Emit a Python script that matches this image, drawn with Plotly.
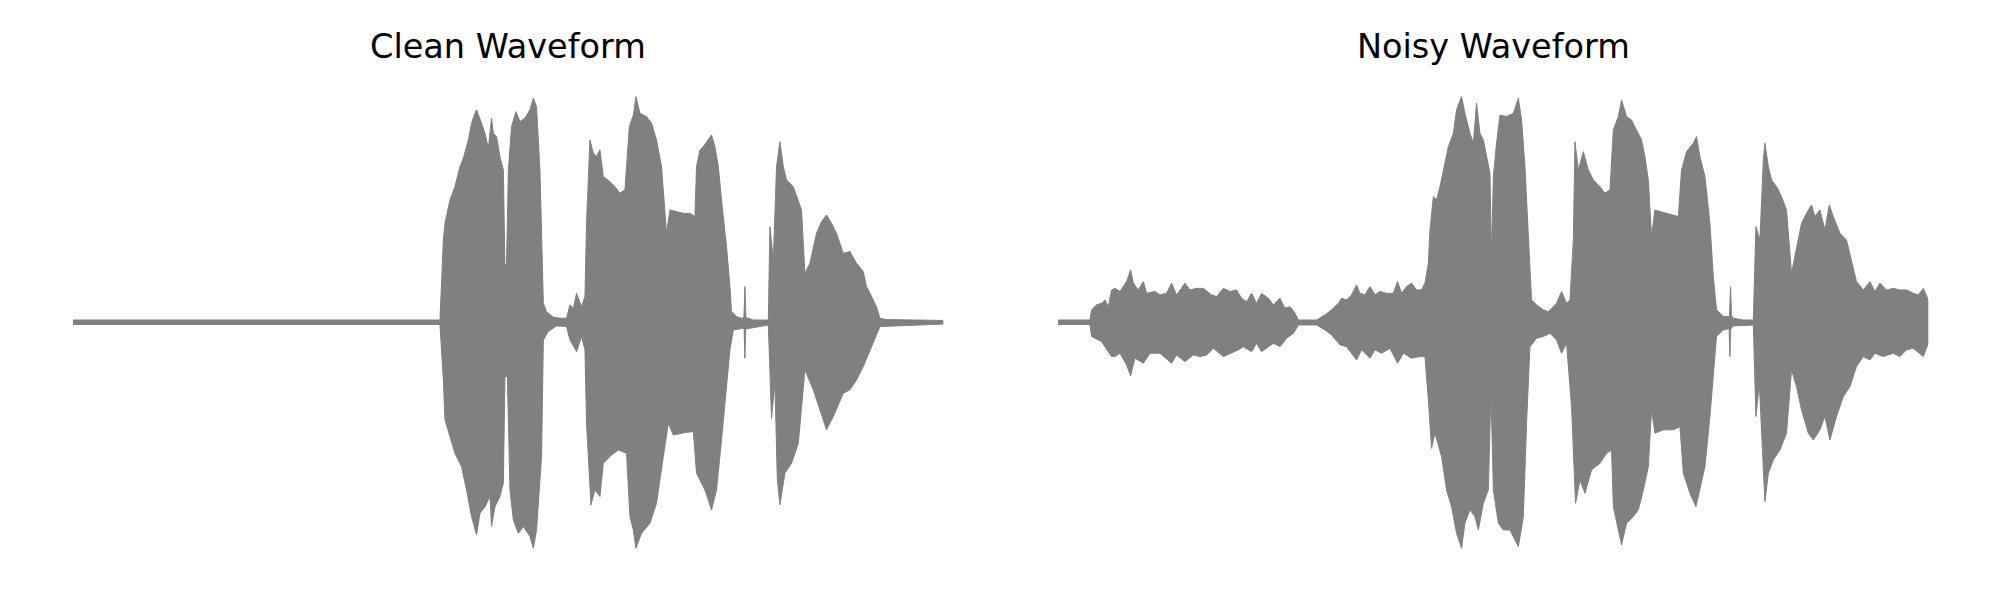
import plotly.graph_objects as go

# ---- Clean waveform envelope (time in s, amplitude normalised to peak) ----
clean_top_t = [0.000, 1.835, 1.852, 1.860, 1.885, 1.910, 1.935, 1.952, 1.977, 1.993, 2.010, 2.018, 2.043, 2.060,
               2.077, 2.093, 2.102, 2.118, 2.135, 2.152, 2.160, 2.168, 2.177, 2.193, 2.215, 2.235, 2.260, 2.285,
               2.302, 2.318, 2.335, 2.352, 2.368, 2.402, 2.435, 2.468, 2.485, 2.502, 2.518, 2.543, 2.560, 2.568,
               2.585, 2.602, 2.618, 2.635, 2.652, 2.685, 2.710, 2.735, 2.760, 2.782, 2.802, 2.815, 2.835, 2.868,
               2.893, 2.918, 2.943, 2.968, 2.985, 3.018, 3.052, 3.085, 3.110, 3.118, 3.135, 3.152, 3.185, 3.193,
               3.210, 3.227, 3.243, 3.268, 3.285, 3.293, 3.318, 3.343, 3.355, 3.360, 3.365, 3.377, 3.402, 3.477,
               3.485, 3.502, 3.518, 3.535, 3.552, 3.568, 3.602, 3.627, 3.643, 3.660, 3.685, 3.718, 3.743, 3.768,
               3.793, 3.818, 3.852, 3.885, 3.918, 3.952, 3.968, 3.993, 4.018, 4.035, 4.068, 4.352]
clean_top = [0.01, 0.01, 0.364, 0.438, 0.541, 0.600, 0.689, 0.726, 0.807, 0.881, 0.925, 0.940, 0.881, 0.836,
             0.770, 0.903, 0.836, 0.822, 0.733, 0.674, 0.246, 0.261, 0.674, 0.866, 0.932, 0.888, 0.903, 0.940,
             0.991, 0.954, 0.674, 0.084, 0.047, 0.022, 0.018, 0.018, 0.077, 0.062, 0.128, 0.069, 0.114, 0.438,
             0.807, 0.748, 0.733, 0.763, 0.645, 0.622, 0.600, 0.571, 0.586, 0.866, 0.917, 0.999, 0.925, 0.910,
             0.881, 0.807, 0.689, 0.394, 0.497, 0.490, 0.482, 0.482, 0.468, 0.689, 0.763, 0.777, 0.822, 0.829,
             0.777, 0.689, 0.541, 0.335, 0.158, 0.047, 0.025, 0.018, 0.02, 0.158, 0.02, 0.018, 0.010, 0.010,
             0.423, 0.276, 0.689, 0.799, 0.689, 0.630, 0.600, 0.541, 0.497, 0.217, 0.261, 0.394, 0.445, 0.475,
             0.438, 0.394, 0.305, 0.313, 0.261, 0.224, 0.158, 0.114, 0.069, 0.018, 0.012, 0.008]
clean_bot_t = [0.000, 1.835, 1.852, 1.860, 1.885, 1.910, 1.943, 1.968, 1.993, 2.018, 2.035, 2.060, 2.085, 2.093,
               2.110, 2.135, 2.152, 2.160, 2.172, 2.185, 2.202, 2.227, 2.252, 2.285, 2.302, 2.318, 2.343, 2.352,
               2.377, 2.418, 2.468, 2.485, 2.518, 2.543, 2.560, 2.568, 2.590, 2.610, 2.635, 2.652, 2.693, 2.727,
               2.768, 2.785, 2.802, 2.815, 2.843, 2.885, 2.918, 2.952, 2.977, 3.002, 3.068, 3.102, 3.118, 3.135,
               3.160, 3.193, 3.218, 3.243, 3.268, 3.285, 3.302, 3.352, 3.356, 3.360, 3.364, 3.377, 3.477, 3.493,
               3.510, 3.522, 3.535, 3.560, 3.593, 3.627, 3.660, 3.702, 3.735, 3.768, 3.802, 3.852, 3.885, 3.918,
               3.952, 3.993, 4.035, 4.352]
clean_bot = [-0.01, -0.01, -0.255, -0.432, -0.506, -0.580, -0.639, -0.742, -0.860, -0.941, -0.845, -0.816,
             -0.771, -0.904, -0.816, -0.771, -0.712, -0.240, -0.240, -0.742, -0.875, -0.934, -0.904, -0.948,
             -1.000, -0.919, -0.594, -0.078, -0.041, -0.016, -0.019, -0.078, -0.130, -0.063, -0.122, -0.447,
             -0.808, -0.742, -0.771, -0.624, -0.587, -0.565, -0.580, -0.860, -0.919, -1.000, -0.934, -0.889,
             -0.801, -0.594, -0.447, -0.499, -0.487, -0.484, -0.668, -0.698, -0.742, -0.830, -0.742, -0.521,
             -0.299, -0.122, -0.034, -0.027, -0.03, -0.159, -0.03, -0.027, -0.012, -0.425, -0.270, -0.698,
             -0.808, -0.668, -0.624, -0.535, -0.211, -0.299, -0.388, -0.476, -0.417, -0.314, -0.299, -0.255,
             -0.196, -0.108, -0.019, -0.008]

# ---- Noisy waveform envelope ----
noisy_top_t = [0.000, 0.160, 0.168, 0.193, 0.218, 0.235, 0.252, 0.268, 0.285, 0.310, 0.343, 0.363, 0.377, 0.402,
               0.427, 0.443, 0.485, 0.510, 0.543, 0.568, 0.593, 0.635, 0.660, 0.693, 0.727, 0.768, 0.793, 0.827,
               0.860, 0.893, 0.918, 0.943, 0.968, 0.993, 1.018, 1.052, 1.077, 1.110, 1.135, 1.160, 1.185, 1.202,
               1.293, 1.335, 1.368, 1.402, 1.418, 1.443, 1.468, 1.493, 1.510, 1.535, 1.560, 1.585, 1.610, 1.643,
               1.677, 1.698, 1.718, 1.743, 1.768, 1.793, 1.818, 1.835, 1.852, 1.860, 1.877, 1.893, 1.910, 1.935,
               1.952, 1.977, 1.993, 2.018, 2.035, 2.060, 2.077, 2.093, 2.110, 2.127, 2.143, 2.160, 2.168, 2.177,
               2.193, 2.210, 2.243, 2.277, 2.302, 2.318, 2.335, 2.352, 2.368, 2.393, 2.427, 2.452, 2.477, 2.493,
               2.518, 2.543, 2.560, 2.577, 2.585, 2.602, 2.627, 2.652, 2.677, 2.710, 2.735, 2.760, 2.777, 2.802,
               2.818, 2.843, 2.868, 2.893, 2.918, 2.935, 2.952, 2.968, 2.985, 3.010, 3.043, 3.077, 3.102, 3.118,
               3.143, 3.177, 3.193, 3.210, 3.235, 3.260, 3.277, 3.293, 3.327, 3.352, 3.358, 3.363, 3.368, 3.377,
               3.427, 3.477, 3.490, 3.510, 3.527, 3.535, 3.552, 3.568, 3.593, 3.618, 3.643, 3.668, 3.693, 3.718,
               3.743, 3.768, 3.785, 3.810, 3.835, 3.857, 3.877, 3.910, 3.943, 3.968, 3.993, 4.027, 4.060, 4.085,
               4.110, 4.143, 4.177, 4.210, 4.243, 4.277, 4.302, 4.327, 4.352]
noisy_top = [0.01, 0.01, 0.055, 0.077, 0.084, 0.099, 0.069, 0.143, 0.150, 0.136, 0.180, 0.232, 0.173, 0.143,
             0.180, 0.128, 0.136, 0.121, 0.128, 0.173, 0.121, 0.173, 0.143, 0.150, 0.150, 0.121, 0.114, 0.150,
             0.136, 0.143, 0.106, 0.091, 0.128, 0.084, 0.128, 0.106, 0.077, 0.106, 0.062, 0.069, 0.040, 0.010,
             0.010, 0.032, 0.055, 0.084, 0.106, 0.099, 0.121, 0.165, 0.128, 0.121, 0.158, 0.121, 0.136, 0.128,
             0.128, 0.180, 0.128, 0.158, 0.173, 0.143, 0.143, 0.173, 0.261, 0.409, 0.556, 0.541, 0.600, 0.704,
             0.777, 0.836, 0.940, 0.999, 0.925, 0.836, 0.792, 0.969, 0.836, 0.807, 0.733, 0.659, 0.291, 0.645,
             0.792, 0.917, 0.910, 0.925, 0.991, 0.895, 0.689, 0.364, 0.099, 0.077, 0.055, 0.047, 0.069, 0.084,
             0.136, 0.084, 0.099, 0.364, 0.799, 0.674, 0.755, 0.674, 0.630, 0.600, 0.571, 0.586, 0.851, 0.910,
             0.984, 0.910, 0.895, 0.851, 0.807, 0.733, 0.630, 0.379, 0.497, 0.490, 0.482, 0.475, 0.468, 0.674,
             0.755, 0.792, 0.822, 0.733, 0.645, 0.438, 0.202, 0.055, 0.025, 0.025, 0.03, 0.158, 0.03, 0.018,
             0.010, 0.010, 0.423, 0.364, 0.718, 0.792, 0.689, 0.630, 0.600, 0.556, 0.497, 0.217, 0.335, 0.438,
             0.482, 0.519, 0.468, 0.497, 0.409, 0.519, 0.468, 0.394, 0.364, 0.276, 0.180, 0.143, 0.180, 0.136,
             0.173, 0.143, 0.150, 0.143, 0.143, 0.128, 0.121, 0.150, 0.099]
noisy_bot_t = [0.000, 0.160, 0.168, 0.218, 0.268, 0.285, 0.310, 0.343, 0.363, 0.385, 0.427, 0.460, 0.510, 0.568,
               0.593, 0.635, 0.677, 0.710, 0.743, 0.777, 0.827, 0.868, 0.902, 0.927, 0.968, 0.993, 1.018, 1.077,
               1.110, 1.143, 1.177, 1.202, 1.293, 1.335, 1.368, 1.410, 1.443, 1.493, 1.518, 1.560, 1.585, 1.618,
               1.660, 1.698, 1.727, 1.768, 1.810, 1.835, 1.852, 1.868, 1.885, 1.918, 1.943, 1.968, 1.993, 2.018,
               2.035, 2.060, 2.085, 2.102, 2.127, 2.152, 2.165, 2.177, 2.202, 2.227, 2.260, 2.302, 2.327, 2.343,
               2.360, 2.393, 2.427, 2.460, 2.493, 2.518, 2.543, 2.568, 2.588, 2.610, 2.635, 2.668, 2.710, 2.743,
               2.768, 2.777, 2.793, 2.818, 2.843, 2.877, 2.902, 2.927, 2.952, 2.968, 2.985, 3.027, 3.077, 3.110,
               3.127, 3.160, 3.190, 3.210, 3.235, 3.260, 3.277, 3.293, 3.327, 3.352, 3.356, 3.360, 3.364, 3.377,
               3.477, 3.490, 3.507, 3.527, 3.535, 3.552, 3.577, 3.610, 3.643, 3.668, 3.693, 3.718, 3.752, 3.777,
               3.810, 3.835, 3.860, 3.893, 3.927, 3.960, 3.993, 4.027, 4.060, 4.085, 4.127, 4.177, 4.210, 4.243,
               4.277, 4.327, 4.352]
noisy_bot = [-0.01, -0.01, -0.063, -0.086, -0.152, -0.152, -0.137, -0.189, -0.237, -0.159, -0.181, -0.137,
             -0.137, -0.181, -0.145, -0.174, -0.145, -0.152, -0.145, -0.115, -0.152, -0.137, -0.122, -0.108,
             -0.130, -0.093, -0.130, -0.093, -0.108, -0.071, -0.049, -0.012, -0.012, -0.034, -0.056, -0.100,
             -0.108, -0.167, -0.122, -0.159, -0.122, -0.137, -0.115, -0.181, -0.137, -0.159, -0.152, -0.152,
             -0.344, -0.558, -0.491, -0.594, -0.742, -0.816, -0.934, -1.000, -0.889, -0.830, -0.860, -0.919,
             -0.801, -0.742, -0.299, -0.742, -0.889, -0.919, -0.919, -0.993, -0.860, -0.447, -0.108, -0.071,
             -0.063, -0.049, -0.078, -0.137, -0.093, -0.373, -0.801, -0.698, -0.757, -0.653, -0.624, -0.580,
             -0.565, -0.816, -0.889, -0.985, -0.889, -0.860, -0.830, -0.742, -0.639, -0.388, -0.491, -0.476,
             -0.476, -0.462, -0.668, -0.757, -0.816, -0.742, -0.639, -0.417, -0.240, -0.063, -0.034, -0.029,
             -0.03, -0.152, -0.03, -0.016, -0.012, -0.417, -0.270, -0.653, -0.794, -0.668, -0.609, -0.565,
             -0.491, -0.211, -0.285, -0.388, -0.491, -0.521, -0.476, -0.417, -0.521, -0.417, -0.329, -0.285,
             -0.196, -0.152, -0.167, -0.137, -0.152, -0.137, -0.152, -0.122, -0.115, -0.152, -0.093]

titles = ["Clean Waveform", "Noisy Waveform"]
WAVE_COLOR = "#808080"

for a, b in [(clean_top_t, clean_top), (clean_bot_t, clean_bot), (noisy_top_t, noisy_top), (noisy_bot_t, noisy_bot)]:
    assert len(a) == len(b), (len(a), len(b))


def envelope(top_t, top, bot_t, bot):
    xs = list(top_t) + list(bot_t)[::-1]
    ys = list(top) + list(bot)[::-1]
    return xs, ys


fig = go.Figure()
for i, (tt, tv, bt, bv) in enumerate([(clean_top_t, clean_top, clean_bot_t, clean_bot),
                                        (noisy_top_t, noisy_top, noisy_bot_t, noisy_bot)]):
    xs, ys = envelope(tt, tv, bt, bv)
    fig.add_trace(go.Scatter(
        x=xs, y=ys, mode="lines", fill="toself", fillcolor=WAVE_COLOR,
        line=dict(color=WAVE_COLOR, width=1), hoverinfo="skip", showlegend=False,
        xaxis="x" if i == 0 else "x2", yaxis="y"))

duration = max(clean_top_t[-1], noisy_top_t[-1])
fig.update_layout(
    width=2000, height=600,
    margin=dict(l=0, r=0, t=0, b=0),
    paper_bgcolor="white", plot_bgcolor="white",
    xaxis=dict(domain=[73 / 2000, 943.3 / 2000], range=[0, duration], visible=False),
    xaxis2=dict(domain=[1058 / 2000, 1928.3 / 2000], range=[0, duration], visible=False),
    yaxis=dict(domain=[0, 1], range=[-1.229, 1.426], visible=False),
    annotations=[
        dict(text=titles[0], x=508 / 2000, y=1 - 46 / 600, xref="paper", yref="paper",
             xanchor="center", yanchor="middle", showarrow=False,
             font=dict(family="DejaVu Sans", size=33.5, color="black")),
        dict(text=titles[1], x=1493 / 2000, y=1 - 46 / 600, xref="paper", yref="paper",
             xanchor="center", yanchor="middle", showarrow=False,
             font=dict(family="DejaVu Sans", size=33.5, color="black")),
    ],
)

fig.write_html("out.html", config={"displayModeBar": False},
               post_script="document.body.style.margin='0';document.body.style.overflow='hidden';")
